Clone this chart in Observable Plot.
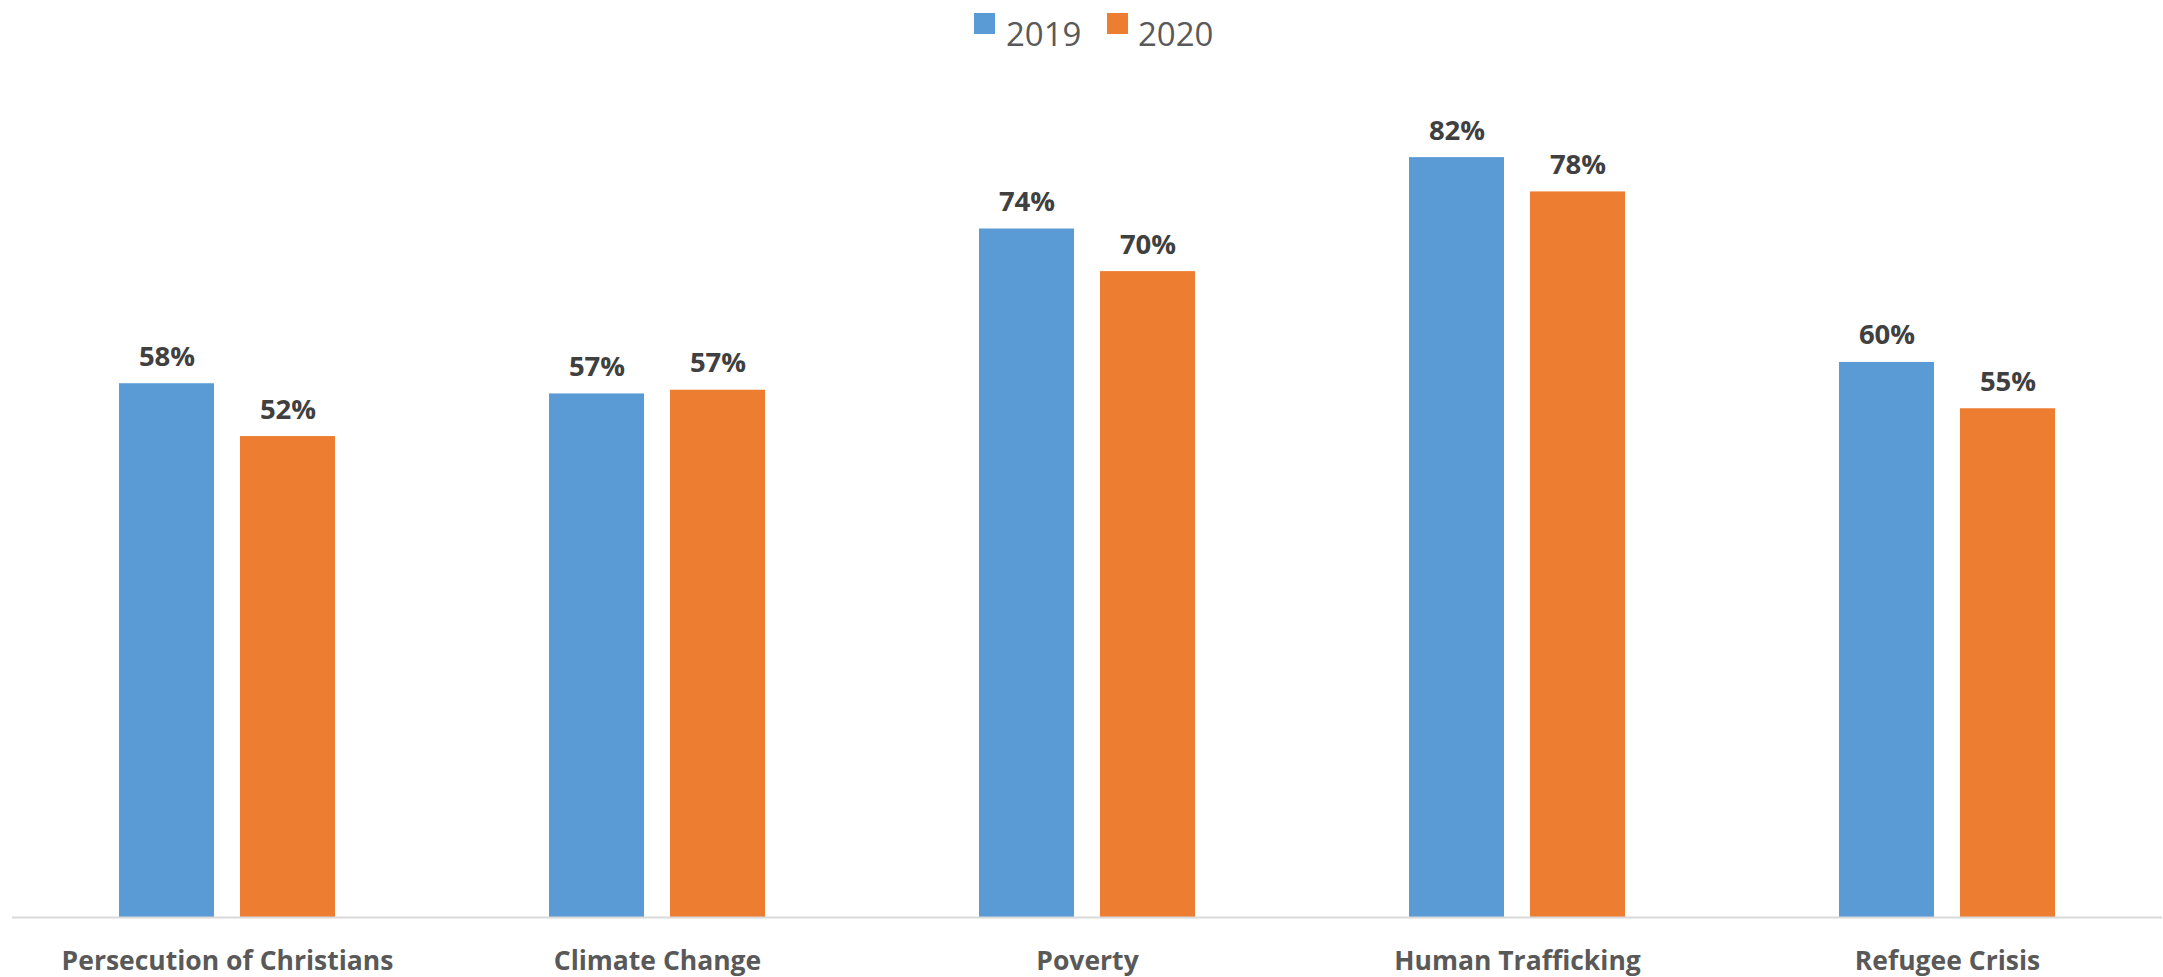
<!DOCTYPE html>
<html>
<head>
<meta charset="utf-8">
<script src="https://cdn.jsdelivr.net/npm/d3@7"></script>
<script src="https://cdn.jsdelivr.net/npm/@observablehq/plot@0.6"></script>
<style>
  html, body { margin: 0; padding: 0; background: #fff; }
  #legend { position: relative; height: 48px; width: 2163px; font-family: "Open Sans", sans-serif; color: #595959; }
  .sw { position: absolute; top: 13px; width: 21px; height: 21px; }
  .lt { position: absolute; top: 34px; font-size: 33px; line-height: 0; }
</style>
</head>
<body>
<div id="legend"></div>
<div id="chart"></div>
<script>
const categories = ["Persecution of Christians", "Climate Change", "Poverty", "Human Trafficking", "Refugee Crisis"];
const years = ["2019", "2020"];
const values2019 = [57.6, 56.5, 74.3, 82.0, 59.9];
const values2020 = [51.9, 56.9, 69.7, 78.3, 54.9];
const colors = ["#5b9bd5", "#ed7d31"];

const data = [];
categories.forEach((c, i) => {
  data.push({category: c, year: years[0], value: values2019[i]});
  data.push({category: c, year: years[1], value: values2020[i]});
});

// legend
const legend = document.getElementById("legend");
const legendPos = [{sq: 974, tx: 1006}, {sq: 1107, tx: 1138}];
years.forEach((y, i) => {
  const s = document.createElement("div");
  s.className = "sw"; s.style.left = legendPos[i].sq + "px"; s.style.background = colors[i];
  legend.appendChild(s);
  const t = document.createElement("div");
  t.className = "lt"; t.style.left = legendPos[i].tx + "px"; t.textContent = y;
  legend.appendChild(t);
});

const chart = Plot.plot({
  width: 2163,
  height: 929,
  marginTop: 35,
  marginBottom: 60,
  marginLeft: 12,
  marginRight: 1,
  style: {fontFamily: "'Open Sans', sans-serif", background: "#fff"},
  fx: {domain: categories, padding: 0, axis: null},
  x: {domain: years, paddingInner: 0.213, paddingOuter: 0.869, axis: null},
  y: {domain: [0, 90], axis: null},
  color: {domain: years, range: colors},
  marks: [
    Plot.barY(data, {fx: "category", x: "year", y: "value", fill: "year"}),
    Plot.ruleY([0], {stroke: "#d9d9d9", strokeWidth: 2}),
    Plot.text(data, {
      fx: "category", x: "year", y: "value",
      text: d => Math.round(d.value) + "%",
      lineAnchor: "bottom", dy: -18,
      fontSize: 27.5, fontWeight: "bold", fill: "#404040"
    }),
    Plot.text(categories, {
      fx: d => d, text: d => d,
      frameAnchor: "bottom", lineAnchor: "bottom", dy: 52,
      fontSize: 26.5, fontWeight: "bold", fill: "#595959"
    })
  ]
});
document.getElementById("chart").appendChild(chart);
</script>
</body>
</html>
